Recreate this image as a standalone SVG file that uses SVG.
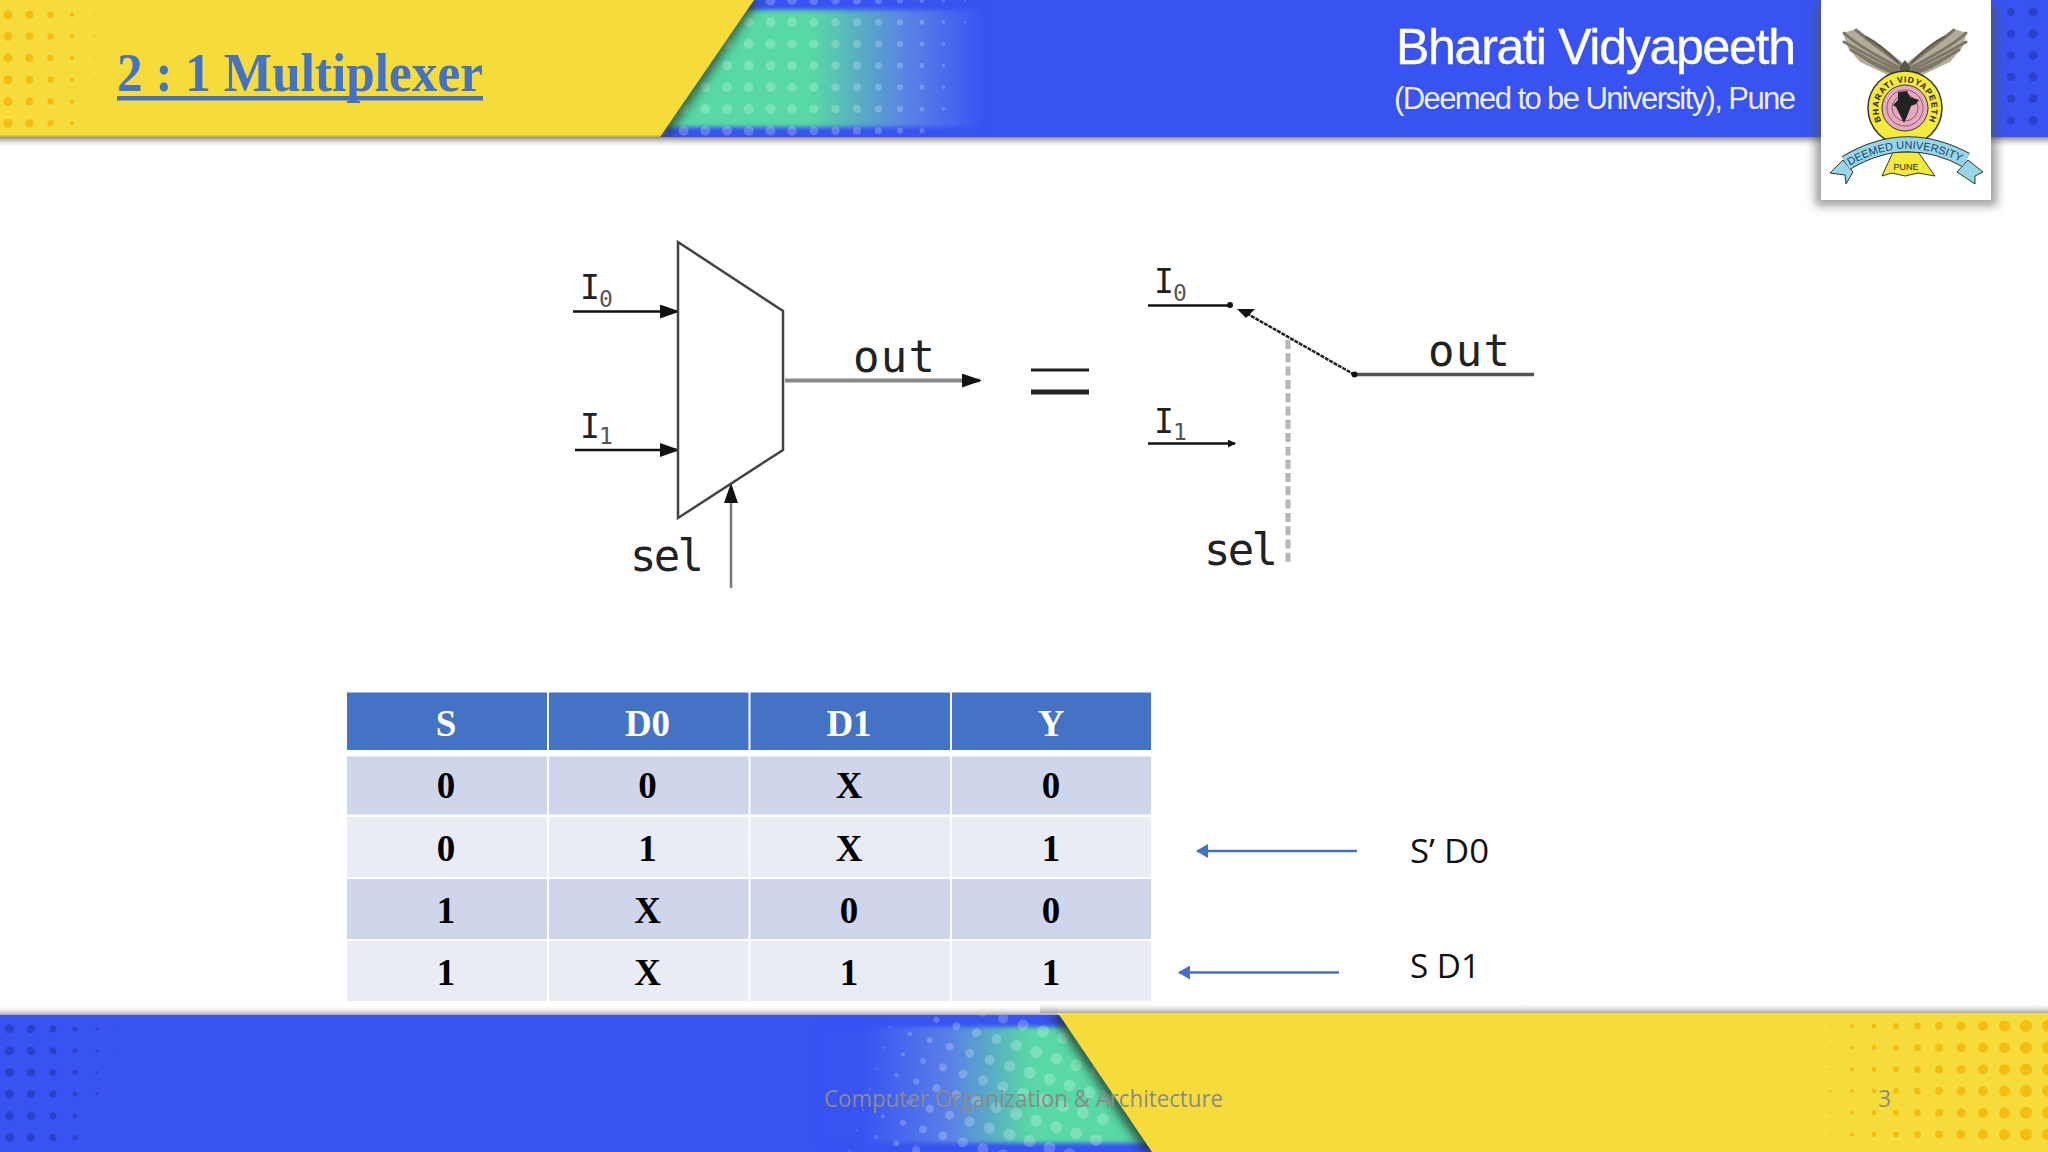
<svg xmlns="http://www.w3.org/2000/svg" width="2048" height="1152" viewBox="0 0 2048 1152">
<style>
.dots path{fill:none;stroke-linecap:round;stroke-dasharray:0 21.7}
.cell{font:bold 37px "Liberation Serif",serif;text-anchor:middle;fill:#000}
.head{fill:#fff}
.mono{font-family:"DejaVu Sans Mono",monospace;fill:#222}
.io{font-size:33px}.sub{font-size:23px;fill:#555}.big{font-size:44px}
.wire{stroke:#111;fill:none;stroke-width:2.5}
.foot{font:24px "Open Sans",sans-serif;fill:#8a8a8a}
.note{font:32px "Open Sans",sans-serif;fill:#111}
.hdr{font-family:"Liberation Sans",sans-serif;fill:#fff;text-anchor:end}
.feather{fill:none;stroke:#7d7665;stroke-linecap:round}
</style>
<defs>
<linearGradient id="gHead" x1="0" x2="1" y1="0" y2="0"><stop offset="0" stop-color="#58d8a4"/><stop offset=".5" stop-color="#58d8a4"/><stop offset=".78" stop-color="#5a80e6"/><stop offset="1" stop-color="#3853f2"/></linearGradient>
<linearGradient id="gFoot" x1="0" x2="1" y1="0" y2="0"><stop offset=".12" stop-color="#3853f2"/><stop offset=".37" stop-color="#5a80e6"/><stop offset=".6" stop-color="#58d8a4"/><stop offset="1" stop-color="#58d8a4"/></linearGradient>
<linearGradient id="shDown" x1="0" x2="0" y1="0" y2="1"><stop offset="0" stop-color="#8a8a8a"/><stop offset="1" stop-color="#fff" stop-opacity="0"/></linearGradient>
<linearGradient id="shUp" x1="0" x2="0" y1="1" y2="0"><stop offset="0" stop-color="#a8a8a8"/><stop offset="1" stop-color="#fff" stop-opacity="0"/></linearGradient>
<filter id="blur4" x="-20%" y="-20%" width="140%" height="140%"><feGaussianBlur stdDeviation="5"/></filter>
<filter id="blur1" x="-5%" y="-20%" width="110%" height="140%"><feGaussianBlur stdDeviation="2"/></filter>
<clipPath id="cHead"><rect x="0" y="0" width="2048" height="137"/></clipPath>
<clipPath id="cFoot"><rect x="0" y="1015" width="2048" height="137"/></clipPath>
<marker id="ah" markerWidth="8" markerHeight="8" refX="7" refY="4" orient="auto" markerUnits="userSpaceOnUse" viewBox="0 0 8 8"><path d="M0 0L8 4L0 8Z" fill="#111"/></marker>
<marker id="ahL" markerWidth="20" markerHeight="14" refX="18" refY="7" orient="auto" markerUnits="userSpaceOnUse" viewBox="0 0 20 14"><path d="M0 0L20 7L0 14Z" fill="#111"/></marker>
<marker id="ahB" markerWidth="12" markerHeight="14" refX="11" refY="7" orient="auto" markerUnits="userSpaceOnUse" viewBox="0 0 12 14"><path d="M0 0L12 7L0 14Z" fill="#4472c4"/></marker>
<g id="wing">
<polygon points="1843,33 1856,29 1880,45 1902,62 1902,76 1888,75 1860,62 1848,48" fill="#b3ac9a"/>
<g class="feather">
<path d="M1900 68C1885 60 1860 48 1844 33" stroke-width="3"/><path d="M1898 70C1880 62 1862 52 1844 42" stroke-width="3"/><path d="M1896 72C1880 67 1866 58 1851 50" stroke-width="3"/><path d="M1900 64C1885 52 1870 42 1856 30" stroke-width="3"/><path d="M1893 73C1882 70 1872 64 1860 56" stroke-width="2"/>
<path d="M1898 62C1888 52 1876 42 1866 37" stroke-width="2" stroke="#5f5a4a"/>
</g>
</g>
</defs>
<rect width="2048" height="1152" fill="#fff"/>

<g id="header-band">
<rect x="0" y="137" width="2048" height="11" fill="url(#shDown)"/>
<rect x="0" y="0" width="2048" height="137" fill="#3853f2"/>
<rect x="640" y="10" width="345" height="117" fill="url(#gHead)" filter="url(#blur1)"/>
<g class="dots" clip-path="url(#cHead)" stroke="#fff" stroke-opacity=".22">
<path d="M662 0.5V140" stroke-width="10"/><path d="M683.7 0.5V140" stroke-width="10"/><path d="M705.4 0.5V140" stroke-width="10"/><path d="M727 0.5V140" stroke-width="10"/><path d="M748.8 0.5V140" stroke-width="10"/><path d="M770.5 0.5V140" stroke-width="10"/><path d="M792 0.5V140" stroke-width="9.5"/><path d="M813.8 0.5V140" stroke-width="9"/><path d="M835.5 0.5V140" stroke-width="8.5"/><path d="M857 0.5V140" stroke-width="8"/><path d="M878.5 0.5V140" stroke-width="7"/><path d="M900 0.5V140" stroke-width="6"/><path d="M922 0.5V140" stroke-width="5"/><path d="M943.5 0.5V120" stroke-width="3.5"/><path d="M965 0.5V30" stroke-width="2"/>
</g>
<polygon points="0,0 760,0 668,137 0,137" fill="#2c3a20" opacity=".7" filter="url(#blur4)" clip-path="url(#cHead)"/>
<polygon points="0,0 754,0 660,137 0,137" fill="#f5dc3a"/>
<rect x="0" y="135.500" width="660" height="1.500" fill="#c8b23a"/>
<g class="dots" clip-path="url(#cHead)" stroke="#f6bd10">
<path d="M8 14.700V130" stroke-width="9"/><path d="M29.500 14.700V130" stroke-width="8"/><path d="M50.500 14.700V130" stroke-width="6.500"/><path d="M72 14.700V130" stroke-width="4.500"/><path d="M94 14.700V90" stroke-width="2"/>
</g>
<g class="dots" clip-path="url(#cHead)" stroke="#2a41c8">
<path d="M2011 12V125" stroke-width="8"/><path d="M2033 12V125" stroke-width="9"/>
</g>
</g>

<g id="title"><text x="117" y="91" font-family="Liberation Serif, serif" font-weight="bold" font-size="54" fill="#4472c4" textLength="366" lengthAdjust="spacingAndGlyphs">2 : 1 Multiplexer</text><rect x="117" y="96" width="366" height="4.500" fill="#4472c4"/></g>
<g id="brand">
<text class="hdr" x="1796" y="64" font-size="50" textLength="400" stroke="#fff" stroke-width=".4">Bharati Vidyapeeth</text>
<text class="hdr" x="1796" y="109" font-size="31" textLength="402" fill-opacity=".92">(Deemed to be University), Pune</text>
</g>

<g id="logo">
<rect x="1815" y="4" width="182" height="202" fill="#555" opacity=".55" filter="url(#blur4)"/>
<rect x="1821" y="0" width="170" height="200" fill="#fff"/>
<use href="#wing"/>
<use href="#wing" transform="matrix(-1 0 0 1 3810 0)"/>
<path d="M1900 74V66L1905 60L1910 66V74Z" fill="#5c5648"/>
<circle cx="1905" cy="108" r="37" fill="#f4ea3c" stroke="#333" stroke-width="1.500"/>
<circle cx="1905" cy="108" r="23" fill="#e8a9c0" stroke="#333" stroke-width="1"/>
<circle cx="1905" cy="108" r="18" fill="none" stroke="#8a5a6e" stroke-width="1"/>
<circle cx="1905" cy="108" r="13" fill="none" stroke="#8a5a6e" stroke-width="1"/>
<path d="M1898 92L1907 91L1910 97L1919 100L1916 104L1911 106L1908 114L1904 123L1900 115L1896 107L1893 105L1898 100Z" fill="#222"/>
<path id="arcTop" d="M1882 122A26.500 26.500 0 1 1 1928 122" fill="none"/>
<text font-family="Liberation Sans, sans-serif" font-weight="bold" font-size="8.500" fill="#222"><textPath href="#arcTop" textLength="108" startOffset="1">BHARATI VIDYAPEETH</textPath></text>
<polygon points="1893,152 1918,152 1935,176 1918,173 1905,176 1892,173 1882,176" fill="#f4ea3c" stroke="#333" stroke-width="1"/>
<text x="1906" y="170" font-family="Liberation Sans, sans-serif" font-size="9" fill="#222" text-anchor="middle">PUNE</text>
<polygon points="1830,173 1843,160 1853,172 1846,184 1845,175" fill="#96d6e6" stroke="#333" stroke-width="1"/>
<polygon points="1983,172 1968,160 1957,172 1975,184 1975,176" fill="#96d6e6" stroke="#333" stroke-width="1"/>
<path d="M1846 163Q1905 127 1966 160" fill="none" stroke="#333" stroke-width="16"/>
<path d="M1846 163Q1905 127 1966 160" fill="none" stroke="#96d6e6" stroke-width="14"/>
<path id="arcRib" d="M1848 167Q1905 132 1964 164" fill="none"/>
<text font-family="Liberation Sans, sans-serif" font-size="11" fill="#1d3f6e"><textPath href="#arcRib" textLength="116" startOffset="2">DEEMED UNIVERSITY</textPath></text>
</g>

<g id="connectors">
<line class="wire" x1="573" y1="311.500" x2="678" y2="311.500" marker-end="url(#ahL)"/>
<line class="wire" x1="575" y1="450" x2="678" y2="450" marker-end="url(#ahL)"/>
<line x1="785" y1="380.500" x2="980" y2="380.500" stroke="#888" stroke-width="4" marker-end="url(#ahL)"/>
<line x1="731" y1="588" x2="731" y2="485" stroke="#777" stroke-width="2.500" marker-end="url(#ahL)"/>
<line class="wire" x1="1148" y1="305.500" x2="1230" y2="305.500"/>
<line class="wire" x1="1148" y1="443.500" x2="1235" y2="443.500" marker-end="url(#ah)"/>
<line x1="1354.500" y1="374.700" x2="1246" y2="313" stroke="#222" stroke-width="2.500" stroke-dasharray="4 1"/>
<polygon points="1237,309 1255,309 1246,318" fill="#111"/>
<line x1="1354" y1="374.500" x2="1534" y2="374.500" stroke="#555" stroke-width="3.500"/>
<line x1="1288" y1="340" x2="1288" y2="563" stroke="#b5b5b5" stroke-width="5" stroke-dasharray="9 4.300"/>
<line x1="1357" y1="851" x2="1197" y2="851" stroke="#4472c4" stroke-width="2.500" marker-end="url(#ahB)"/>
<line x1="1339" y1="972.500" x2="1179" y2="972.500" stroke="#4472c4" stroke-width="2.500" marker-end="url(#ahB)"/>
</g>

<g id="mux">
<polygon points="678,242 783,311 783,450 678,518" fill="#fff" stroke="#444" stroke-width="2.500"/>
<text class="mono io" x="580" y="299">I</text><text class="mono sub" x="599" y="307">0</text>
<text class="mono io" x="580" y="438">I</text><text class="mono sub" x="599" y="444">1</text>
<text class="mono big" x="853" y="372" textLength="82">out</text>
<text class="mono big" x="630" y="571" textLength="74">sel</text>
</g>

<g id="equals"><rect x="1031" y="368.500" width="58" height="3" fill="#222"/><rect x="1031" y="389.500" width="58" height="5" fill="#222"/></g>

<g id="switch">
<circle cx="1230" cy="305" r="3" fill="#111"/><circle cx="1354.500" cy="374.500" r="3" fill="#111"/>
<text class="mono io" x="1154" y="293">I</text><text class="mono sub" x="1173" y="301">0</text>
<text class="mono io" x="1154" y="433">I</text><text class="mono sub" x="1173" y="440">1</text>
<text class="mono big" x="1428" y="366" textLength="82">out</text>
<text class="mono big" x="1204" y="565" textLength="74">sel</text>
</g>

<g id="truth-table">
<rect x="347" y="692.500" width="200" height="57.500" fill="#4472c4"/><rect x="549" y="692.500" width="199.500" height="57.500" fill="#4472c4"/><rect x="750.500" y="692.500" width="199.500" height="57.500" fill="#4472c4"/><rect x="952" y="692.500" width="199" height="57.500" fill="#4472c4"/>
<rect x="347" y="756.500" width="200" height="58" fill="#cfd5ea"/><rect x="549" y="756.500" width="199.500" height="58" fill="#cfd5ea"/><rect x="750.500" y="756.500" width="199.500" height="58" fill="#cfd5ea"/><rect x="952" y="756.500" width="199" height="58" fill="#cfd5ea"/>
<rect x="347" y="817" width="200" height="60" fill="#e9ebf5"/><rect x="549" y="817" width="199.500" height="60" fill="#e9ebf5"/><rect x="750.500" y="817" width="199.500" height="60" fill="#e9ebf5"/><rect x="952" y="817" width="199" height="60" fill="#e9ebf5"/>
<rect x="347" y="879" width="200" height="60" fill="#cfd5ea"/><rect x="549" y="879" width="199.500" height="60" fill="#cfd5ea"/><rect x="750.500" y="879" width="199.500" height="60" fill="#cfd5ea"/><rect x="952" y="879" width="199" height="60" fill="#cfd5ea"/>
<rect x="347" y="941" width="200" height="60" fill="#e9ebf5"/><rect x="549" y="941" width="199.500" height="60" fill="#e9ebf5"/><rect x="750.500" y="941" width="199.500" height="60" fill="#e9ebf5"/><rect x="952" y="941" width="199" height="60" fill="#e9ebf5"/>
<g class="cell">
<text class="cell head" x="446" y="736">S</text><text class="cell head" x="647.500" y="736">D0</text><text class="cell head" x="849" y="736">D1</text><text class="cell head" x="1051" y="736">Y</text>
<text class="cell" x="446" y="798">0</text><text class="cell" x="647.500" y="798">0</text><text class="cell" x="849" y="798">X</text><text class="cell" x="1051" y="798">0</text>
<text class="cell" x="446" y="860.500">0</text><text class="cell" x="647.500" y="860.500">1</text><text class="cell" x="849" y="860.500">X</text><text class="cell" x="1051" y="860.500">1</text>
<text class="cell" x="446" y="923">1</text><text class="cell" x="647.500" y="923">X</text><text class="cell" x="849" y="923">0</text><text class="cell" x="1051" y="923">0</text>
<text class="cell" x="446" y="985">1</text><text class="cell" x="647.500" y="985">X</text><text class="cell" x="849" y="985">1</text><text class="cell" x="1051" y="985">1</text>
</g>
</g>

<g id="notes">
<text class="note" x="1410" y="863" textLength="79" lengthAdjust="spacingAndGlyphs">S’ D0</text>
<text class="note" x="1410" y="978" textLength="70" lengthAdjust="spacingAndGlyphs">S D1</text>
</g>

<g id="footer-band">
<rect x="0" y="1005" width="1058" height="10" fill="url(#shUp)"/>
<rect x="1040" y="1002" width="1008" height="11" fill="url(#shUp)"/>
<rect x="0" y="1015" width="2048" height="137" fill="#3853f2"/>
<rect x="820" y="1027" width="350" height="116" fill="url(#gFoot)" filter="url(#blur1)"/>
<g clip-path="url(#cFoot)"><g class="dots" transform="translate(937 1018) rotate(18)" stroke="#fff" stroke-opacity=".22">
<path d="M-42 -20V170" stroke-width="2"/><path d="M-21 -20V170" stroke-width="4"/><path d="M0 -20V170" stroke-width="6"/><path d="M21 -20V170" stroke-width="8"/><path d="M42 -20V170" stroke-width="9"/><path d="M63 -20V170" stroke-width="10"/><path d="M84 -20V170" stroke-width="11"/><path d="M105 -20V170" stroke-width="12"/><path d="M126 -20V170" stroke-width="12"/><path d="M147 -20V170" stroke-width="12"/><path d="M168 -20V170" stroke-width="12"/><path d="M189 -20V170" stroke-width="12"/>
</g></g>
<polygon points="1050,1013 2048,1013 2048,1152 1144,1152" fill="#1c2a20" opacity=".7" filter="url(#blur4)" clip-path="url(#cFoot)"/>
<polygon points="1058,1013 2048,1013 2048,1152 1152,1152" fill="#f5dc3a"/>
<g class="dots" stroke="#f6bd10">
<path d="M1830 1026V1152" stroke-width="2"/><path d="M1852 1026V1152" stroke-width="4"/><path d="M1874 1026V1152" stroke-width="5"/><path d="M1896 1026V1152" stroke-width="6"/><path d="M1917.500 1026V1152" stroke-width="7"/><path d="M1939 1026V1152" stroke-width="8"/><path d="M1961 1026V1152" stroke-width="9"/><path d="M1983 1026V1152" stroke-width="10"/><path d="M2004.500 1026V1152" stroke-width="11"/><path d="M2026 1026V1152" stroke-width="12"/><path d="M2048 1026V1152" stroke-width="12"/>
</g>
<g class="dots" stroke="#2a41c8">
<path d="M9.500 1029V1145" stroke-width="9"/><path d="M31 1029V1145" stroke-width="8"/><path d="M53 1029V1145" stroke-width="7"/><path d="M75 1029V1145" stroke-width="5"/><path d="M97 1029V1100" stroke-width="3"/><path d="M118 1029V1060" stroke-width="1.500"/>
</g>
<text class="foot" x="824" y="1107" textLength="399" lengthAdjust="spacingAndGlyphs">Computer Organization &amp; Architecture</text>
<text class="foot" x="1878" y="1107" textLength="13" lengthAdjust="spacingAndGlyphs">3</text>
</g>
</svg>
